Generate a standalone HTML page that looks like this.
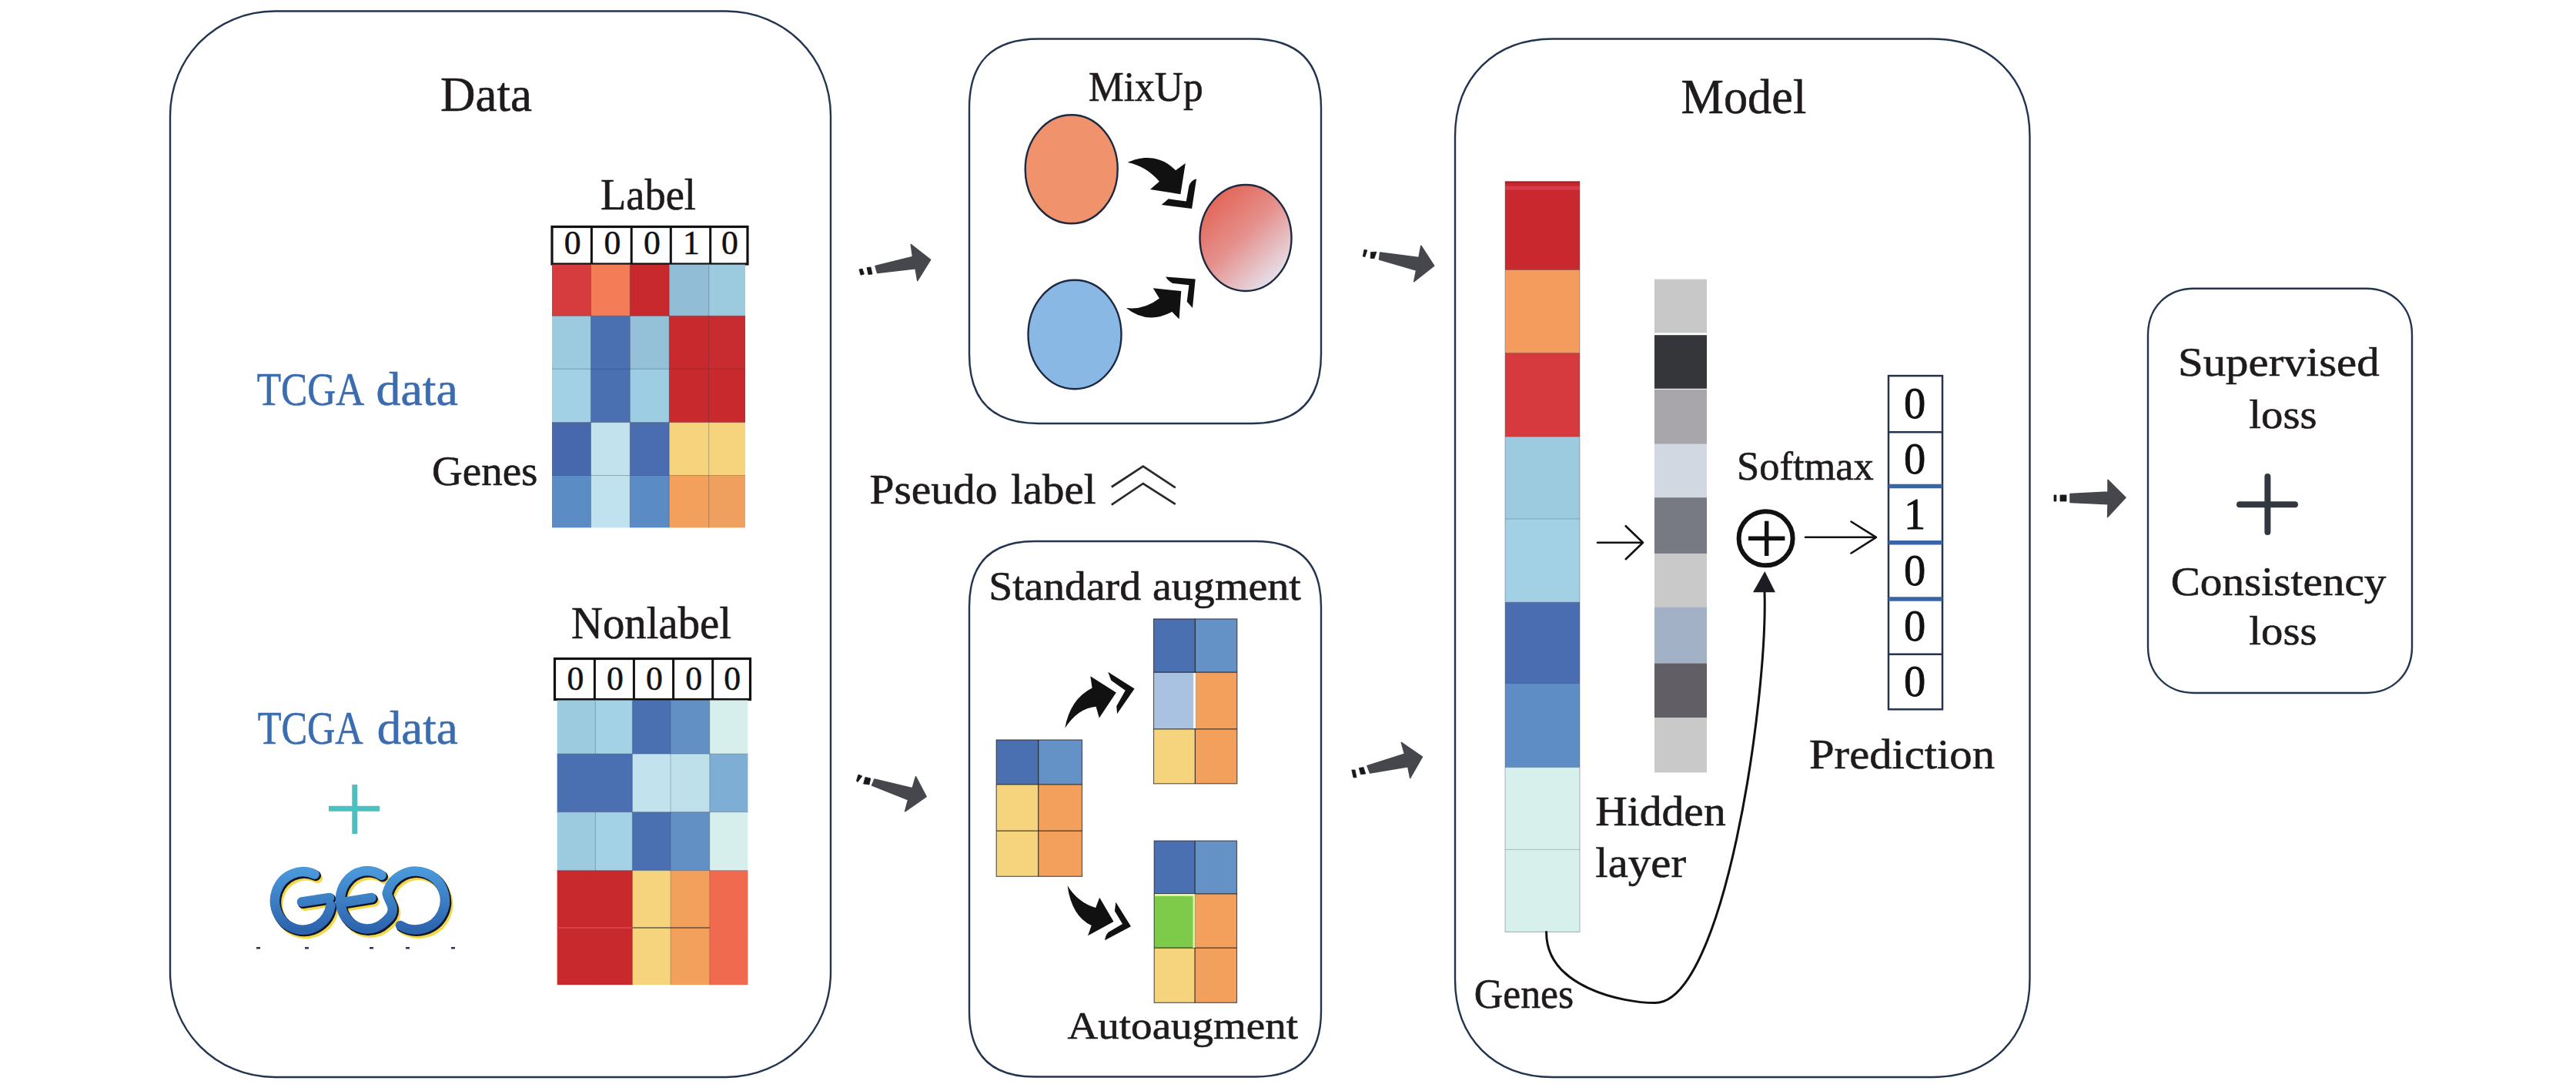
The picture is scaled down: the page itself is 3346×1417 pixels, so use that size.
<!DOCTYPE html><html><head><meta charset="utf-8"><style>html,body{margin:0;padding:0;background:#fff;overflow:hidden}svg{display:block}text{font-family:"Liberation Serif",serif}</style></head><body>
<svg width="3346" height="1417" viewBox="0 0 3346 1417">
<defs><linearGradient id="mix" x1="0.2" y1="0.1" x2="0.85" y2="0.9"><stop offset="0" stop-color="#e2675a"/><stop offset="0.45" stop-color="#e5908c"/><stop offset="1" stop-color="#e6e4ee"/></linearGradient></defs>
<rect width="3346" height="1417" fill="#fff"/>
<g fill="none" stroke="#22344f" stroke-width="2.4">
<path d="M357.0,14.5 L943.0,14.5 C1019.2,14.5 1079.0,74.3 1079.0,150.5 L1079.0,1263.0 C1079.0,1339.2 1019.2,1399.0 943.0,1399.0 L357.0,1399.0 C280.8,1399.0 221.0,1339.2 221.0,1263.0 L221.0,150.5 C221.0,74.3 280.8,14.5 357.0,14.5 Z"/>
<path d="M1349.0,50.5 L1626.0,50.5 C1686.0,50.5 1716.0,80.5 1716.0,140.5 L1716.0,460.0 C1716.0,520.0 1686.0,550.0 1626.0,550.0 L1349.0,550.0 C1289.0,550.0 1259.0,520.0 1259.0,460.0 L1259.0,140.5 C1259.0,80.5 1289.0,50.5 1349.0,50.5 Z"/>
<path d="M1344.0,703.0 L1631.0,703.0 C1687.7,703.0 1716.0,731.3 1716.0,788.0 L1716.0,1313.5 C1716.0,1370.2 1687.7,1398.5 1631.0,1398.5 L1344.0,1398.5 C1287.3,1398.5 1259.0,1370.2 1259.0,1313.5 L1259.0,788.0 C1259.0,731.3 1287.3,703.0 1344.0,703.0 Z"/>
<path d="M2017.0,50.5 L2509.5,50.5 C2585.7,50.5 2636.5,101.3 2636.5,177.5 L2636.5,1272.0 C2636.5,1348.2 2585.7,1399.0 2509.5,1399.0 L2017.0,1399.0 C1940.8,1399.0 1890.0,1348.2 1890.0,1272.0 L1890.0,177.5 C1890.0,101.3 1940.8,50.5 2017.0,50.5 Z"/>
<path d="M2850.0,374.8 L3073.0,374.8 C3108.4,374.8 3133.0,399.4 3133.0,434.8 L3133.0,840.0 C3133.0,875.4 3108.4,900.0 3073.0,900.0 L2850.0,900.0 C2814.6,900.0 2790.0,875.4 2790.0,840.0 L2790.0,434.8 C2790.0,399.4 2814.6,374.8 2850.0,374.8 Z"/>
</g>
<text x="572.0" y="144.0" font-size="64.1" textLength="119.0" lengthAdjust="spacingAndGlyphs" fill="#1f1b1c" stroke="#1f1b1c" stroke-width="0.6">Data</text>
<text x="780.0" y="272.0" font-size="56.2" textLength="124.0" lengthAdjust="spacingAndGlyphs" fill="#1f1b1c" stroke="#1f1b1c" stroke-width="0.6">Label</text>
<text x="333.7" y="526.0" font-size="60.3" textLength="139.5" lengthAdjust="spacingAndGlyphs" fill="#3b6cb0" stroke="#3b6cb0" stroke-width="0.6">TCGA</text>
<text x="488.6" y="526.0" font-size="60.3" textLength="106.3" lengthAdjust="spacingAndGlyphs" fill="#3b6cb0" stroke="#3b6cb0" stroke-width="0.6">data</text>
<text x="561.0" y="630.0" font-size="55.9" textLength="137.5" lengthAdjust="spacingAndGlyphs" fill="#1f1b1c" stroke="#1f1b1c" stroke-width="0.6">Genes</text>
<text x="742.0" y="829.3" font-size="58.8" textLength="208.0" lengthAdjust="spacingAndGlyphs" fill="#1f1b1c" stroke="#1f1b1c" stroke-width="0.6">Nonlabel</text>
<text x="334.7" y="966.0" font-size="60.3" textLength="137.0" lengthAdjust="spacingAndGlyphs" fill="#3b6cb0" stroke="#3b6cb0" stroke-width="0.6">TCGA</text>
<text x="489.8" y="966.0" font-size="60.3" textLength="105.0" lengthAdjust="spacingAndGlyphs" fill="#3b6cb0" stroke="#3b6cb0" stroke-width="0.6">data</text>
<rect x="717" y="294.5" width="254" height="48.5" fill="#fff" stroke="#111" stroke-width="3.2"/>
<line x1="768.4" y1="294.5" x2="768.4" y2="343" stroke="#111" stroke-width="3"/>
<line x1="820.2" y1="294.5" x2="820.2" y2="343" stroke="#111" stroke-width="3"/>
<line x1="871.3" y1="294.5" x2="871.3" y2="343" stroke="#111" stroke-width="3"/>
<line x1="922.7" y1="294.5" x2="922.7" y2="343" stroke="#111" stroke-width="3"/>
<text x="743.7" y="330.2" font-size="43.7" text-anchor="middle" fill="#111" stroke="#111" stroke-width="0.5">0</text>
<text x="795.3" y="330.2" font-size="43.7" text-anchor="middle" fill="#111" stroke="#111" stroke-width="0.5">0</text>
<text x="846.8" y="330.2" font-size="43.7" text-anchor="middle" fill="#111" stroke="#111" stroke-width="0.5">0</text>
<text x="898.0" y="330.2" font-size="43.7" text-anchor="middle" fill="#111" stroke="#111" stroke-width="0.5">1</text>
<text x="947.9" y="330.2" font-size="43.7" text-anchor="middle" fill="#111" stroke="#111" stroke-width="0.5">0</text>
<rect x="720.5" y="855.5" width="254.0" height="53.0" fill="#fff" stroke="#111" stroke-width="3.2"/>
<line x1="772.4" y1="855.5" x2="772.4" y2="908.5" stroke="#111" stroke-width="3"/>
<line x1="823.4" y1="855.5" x2="823.4" y2="908.5" stroke="#111" stroke-width="3"/>
<line x1="874.6" y1="855.5" x2="874.6" y2="908.5" stroke="#111" stroke-width="3"/>
<line x1="925.7" y1="855.5" x2="925.7" y2="908.5" stroke="#111" stroke-width="3"/>
<text x="747.5" y="895.7" font-size="43.7" text-anchor="middle" fill="#111" stroke="#111" stroke-width="0.5">0</text>
<text x="798.9" y="895.7" font-size="43.7" text-anchor="middle" fill="#111" stroke="#111" stroke-width="0.5">0</text>
<text x="850.0" y="895.7" font-size="43.7" text-anchor="middle" fill="#111" stroke="#111" stroke-width="0.5">0</text>
<text x="901.2" y="895.7" font-size="43.7" text-anchor="middle" fill="#111" stroke="#111" stroke-width="0.5">0</text>
<text x="951.1" y="895.7" font-size="43.7" text-anchor="middle" fill="#111" stroke="#111" stroke-width="0.5">0</text>
<rect x="717.0" y="343.6" width="51.5" height="67.7" fill="#d63c3e"/>
<rect x="767.5" y="343.6" width="51.8" height="67.7" fill="#f47d58"/>
<rect x="818.3" y="343.6" width="51.9" height="67.7" fill="#c8292c"/>
<rect x="869.2" y="343.6" width="52.5" height="67.7" fill="#92bdd6"/>
<rect x="920.7" y="343.6" width="47.3" height="67.7" fill="#9ccbe0"/>
<rect x="717.0" y="410.3" width="51.5" height="69.9" fill="#9ccbe0"/>
<rect x="767.5" y="410.3" width="51.8" height="69.9" fill="#4a70b2"/>
<rect x="818.3" y="410.3" width="51.9" height="69.9" fill="#94c1d8"/>
<rect x="869.2" y="410.3" width="52.5" height="69.9" fill="#c8292c"/>
<rect x="920.7" y="410.3" width="47.3" height="69.9" fill="#c92c30"/>
<rect x="717.0" y="479.2" width="51.5" height="70.4" fill="#a2d0e4"/>
<rect x="767.5" y="479.2" width="51.8" height="70.4" fill="#4a70b2"/>
<rect x="818.3" y="479.2" width="51.9" height="70.4" fill="#9dcde3"/>
<rect x="869.2" y="479.2" width="52.5" height="70.4" fill="#c8292c"/>
<rect x="920.7" y="479.2" width="47.3" height="70.4" fill="#c8292c"/>
<rect x="717.0" y="548.6" width="51.5" height="69.9" fill="#4868ad"/>
<rect x="767.5" y="548.6" width="51.8" height="69.9" fill="#c2e3ee"/>
<rect x="818.3" y="548.6" width="51.9" height="69.9" fill="#4a6cb0"/>
<rect x="869.2" y="548.6" width="52.5" height="69.9" fill="#f6d47e"/>
<rect x="920.7" y="548.6" width="47.3" height="69.9" fill="#f6d47e"/>
<rect x="717.0" y="617.5" width="51.5" height="67.8" fill="#5b8cc4"/>
<rect x="767.5" y="617.5" width="51.8" height="67.8" fill="#c0e2ee"/>
<rect x="818.3" y="617.5" width="51.9" height="67.8" fill="#5a8bc4"/>
<rect x="869.2" y="617.5" width="52.5" height="67.8" fill="#f2a05c"/>
<rect x="920.7" y="617.5" width="47.3" height="67.8" fill="#f0a05e"/>
<line x1="717" y1="410.3" x2="767.5" y2="410.3" stroke="rgba(60,60,70,0.35)" stroke-width="1"/>
<line x1="767.5" y1="410.3" x2="818.3" y2="410.3" stroke="rgba(60,60,70,0.35)" stroke-width="1"/>
<line x1="818.3" y1="410.3" x2="869.2" y2="410.3" stroke="rgba(60,60,70,0.35)" stroke-width="1"/>
<line x1="869.2" y1="410.3" x2="920.7" y2="410.3" stroke="rgba(60,60,70,0.35)" stroke-width="1"/>
<line x1="920.7" y1="410.3" x2="968" y2="410.3" stroke="rgba(60,60,70,0.35)" stroke-width="1"/>
<line x1="717" y1="479.2" x2="767.5" y2="479.2" stroke="rgba(60,60,70,0.35)" stroke-width="1"/>
<line x1="767.5" y1="479.2" x2="818.3" y2="479.2" stroke="rgba(60,60,70,0.35)" stroke-width="1"/>
<line x1="818.3" y1="479.2" x2="869.2" y2="479.2" stroke="rgba(60,60,70,0.35)" stroke-width="1"/>
<line x1="869.2" y1="479.2" x2="920.7" y2="479.2" stroke="rgba(60,60,70,0.35)" stroke-width="1"/>
<line x1="920.7" y1="479.2" x2="968" y2="479.2" stroke="rgba(60,60,70,0.35)" stroke-width="1"/>
<line x1="717" y1="548.6" x2="767.5" y2="548.6" stroke="rgba(60,60,70,0.35)" stroke-width="1"/>
<line x1="767.5" y1="548.6" x2="818.3" y2="548.6" stroke="rgba(60,60,70,0.35)" stroke-width="1"/>
<line x1="818.3" y1="548.6" x2="869.2" y2="548.6" stroke="rgba(60,60,70,0.35)" stroke-width="1"/>
<line x1="869.2" y1="548.6" x2="920.7" y2="548.6" stroke="rgba(60,60,70,0.35)" stroke-width="1"/>
<line x1="920.7" y1="548.6" x2="968" y2="548.6" stroke="rgba(60,60,70,0.35)" stroke-width="1"/>
<line x1="717" y1="617.5" x2="767.5" y2="617.5" stroke="rgba(60,60,70,0.35)" stroke-width="1"/>
<line x1="767.5" y1="617.5" x2="818.3" y2="617.5" stroke="rgba(60,60,70,0.35)" stroke-width="1"/>
<line x1="818.3" y1="617.5" x2="869.2" y2="617.5" stroke="rgba(60,60,70,0.35)" stroke-width="1"/>
<line x1="869.2" y1="617.5" x2="920.7" y2="617.5" stroke="rgba(60,60,70,0.35)" stroke-width="1"/>
<line x1="920.7" y1="617.5" x2="968" y2="617.5" stroke="rgba(60,60,70,0.35)" stroke-width="1"/>
<line x1="767.5" y1="343.6" x2="767.5" y2="410.3" stroke="rgba(60,60,70,0.35)" stroke-width="1"/>
<line x1="767.5" y1="410.3" x2="767.5" y2="479.2" stroke="rgba(60,60,70,0.35)" stroke-width="1"/>
<line x1="767.5" y1="479.2" x2="767.5" y2="548.6" stroke="rgba(60,60,70,0.35)" stroke-width="1"/>
<line x1="767.5" y1="548.6" x2="767.5" y2="617.5" stroke="rgba(60,60,70,0.35)" stroke-width="1"/>
<line x1="767.5" y1="617.5" x2="767.5" y2="685.3" stroke="rgba(60,60,70,0.35)" stroke-width="1"/>
<line x1="818.3" y1="343.6" x2="818.3" y2="410.3" stroke="rgba(60,60,70,0.35)" stroke-width="1"/>
<line x1="818.3" y1="410.3" x2="818.3" y2="479.2" stroke="rgba(60,60,70,0.35)" stroke-width="1"/>
<line x1="818.3" y1="479.2" x2="818.3" y2="548.6" stroke="rgba(60,60,70,0.35)" stroke-width="1"/>
<line x1="818.3" y1="548.6" x2="818.3" y2="617.5" stroke="rgba(60,60,70,0.35)" stroke-width="1"/>
<line x1="818.3" y1="617.5" x2="818.3" y2="685.3" stroke="rgba(60,60,70,0.35)" stroke-width="1"/>
<line x1="869.2" y1="343.6" x2="869.2" y2="410.3" stroke="rgba(60,60,70,0.35)" stroke-width="1"/>
<line x1="869.2" y1="410.3" x2="869.2" y2="479.2" stroke="rgba(60,60,70,0.35)" stroke-width="1"/>
<line x1="869.2" y1="479.2" x2="869.2" y2="548.6" stroke="rgba(60,60,70,0.35)" stroke-width="1"/>
<line x1="869.2" y1="548.6" x2="869.2" y2="617.5" stroke="rgba(60,60,70,0.35)" stroke-width="1"/>
<line x1="869.2" y1="617.5" x2="869.2" y2="685.3" stroke="rgba(60,60,70,0.35)" stroke-width="1"/>
<line x1="920.7" y1="343.6" x2="920.7" y2="410.3" stroke="rgba(60,60,70,0.35)" stroke-width="1"/>
<line x1="920.7" y1="410.3" x2="920.7" y2="479.2" stroke="rgba(60,60,70,0.35)" stroke-width="1"/>
<line x1="920.7" y1="479.2" x2="920.7" y2="548.6" stroke="rgba(60,60,70,0.35)" stroke-width="1"/>
<line x1="920.7" y1="548.6" x2="920.7" y2="617.5" stroke="rgba(60,60,70,0.35)" stroke-width="1"/>
<line x1="920.7" y1="617.5" x2="920.7" y2="685.3" stroke="rgba(60,60,70,0.35)" stroke-width="1"/>
<rect x="723.7" y="909.5" width="50.6" height="70.6" fill="#9ccbe0"/>
<rect x="773.3" y="909.5" width="49.1" height="70.6" fill="#a3d1e5"/>
<rect x="821.4" y="909.5" width="50.6" height="70.6" fill="#4a70b2"/>
<rect x="871.0" y="909.5" width="51.8" height="70.6" fill="#628fc4"/>
<rect x="921.8" y="909.5" width="49.6" height="70.6" fill="#d6efec"/>
<rect x="723.7" y="979.1" width="50.6" height="76.6" fill="#4a70b2"/>
<rect x="773.3" y="979.1" width="49.1" height="76.6" fill="#4a70b2"/>
<rect x="821.4" y="979.1" width="50.6" height="76.6" fill="#c2e3ee"/>
<rect x="871.0" y="979.1" width="51.8" height="76.6" fill="#bde0eb"/>
<rect x="921.8" y="979.1" width="49.6" height="76.6" fill="#7eaed4"/>
<rect x="723.7" y="1054.7" width="50.6" height="76.9" fill="#9ccbe0"/>
<rect x="773.3" y="1054.7" width="49.1" height="76.9" fill="#a3d1e5"/>
<rect x="821.4" y="1054.7" width="50.6" height="76.9" fill="#4a70b2"/>
<rect x="871.0" y="1054.7" width="51.8" height="76.9" fill="#628fc4"/>
<rect x="921.8" y="1054.7" width="49.6" height="76.9" fill="#d6efec"/>
<rect x="723.7" y="1130.6" width="50.6" height="75.4" fill="#c8292c"/>
<rect x="773.3" y="1130.6" width="49.1" height="75.4" fill="#c8292c"/>
<rect x="821.4" y="1130.6" width="50.6" height="75.4" fill="#f6d47e"/>
<rect x="871.0" y="1130.6" width="51.8" height="75.4" fill="#f2a05c"/>
<rect x="921.8" y="1130.6" width="49.6" height="75.4" fill="#ef6a4e"/>
<rect x="723.7" y="1205.0" width="50.6" height="74.1" fill="#c8292c"/>
<rect x="773.3" y="1205.0" width="49.1" height="74.1" fill="#c8292c"/>
<rect x="821.4" y="1205.0" width="50.6" height="74.1" fill="#f6d47e"/>
<rect x="871.0" y="1205.0" width="51.8" height="74.1" fill="#f2a05c"/>
<rect x="921.8" y="1205.0" width="49.6" height="74.1" fill="#ef6a4e"/>
<line x1="723.7" y1="979.1" x2="773.3" y2="979.1" stroke="rgba(60,60,70,0.3)" stroke-width="1"/>
<line x1="773.3" y1="979.1" x2="821.4" y2="979.1" stroke="rgba(60,60,70,0.3)" stroke-width="1"/>
<line x1="821.4" y1="979.1" x2="871" y2="979.1" stroke="rgba(60,60,70,0.3)" stroke-width="1"/>
<line x1="871" y1="979.1" x2="921.8" y2="979.1" stroke="rgba(60,60,70,0.3)" stroke-width="1"/>
<line x1="921.8" y1="979.1" x2="971.4" y2="979.1" stroke="rgba(60,60,70,0.3)" stroke-width="1"/>
<line x1="723.7" y1="1054.7" x2="773.3" y2="1054.7" stroke="rgba(60,60,70,0.3)" stroke-width="1"/>
<line x1="773.3" y1="1054.7" x2="821.4" y2="1054.7" stroke="rgba(60,60,70,0.3)" stroke-width="1"/>
<line x1="821.4" y1="1054.7" x2="871" y2="1054.7" stroke="rgba(60,60,70,0.3)" stroke-width="1"/>
<line x1="871" y1="1054.7" x2="921.8" y2="1054.7" stroke="rgba(60,60,70,0.3)" stroke-width="1"/>
<line x1="921.8" y1="1054.7" x2="971.4" y2="1054.7" stroke="rgba(60,60,70,0.3)" stroke-width="1"/>
<line x1="723.7" y1="1130.6" x2="773.3" y2="1130.6" stroke="rgba(60,60,70,0.3)" stroke-width="1"/>
<line x1="773.3" y1="1130.6" x2="821.4" y2="1130.6" stroke="rgba(60,60,70,0.3)" stroke-width="1"/>
<line x1="821.4" y1="1130.6" x2="871" y2="1130.6" stroke="rgba(60,60,70,0.3)" stroke-width="1"/>
<line x1="871" y1="1130.6" x2="921.8" y2="1130.6" stroke="rgba(60,60,70,0.3)" stroke-width="1"/>
<line x1="921.8" y1="1130.6" x2="971.4" y2="1130.6" stroke="rgba(60,60,70,0.3)" stroke-width="1"/>
<line x1="773.3" y1="909.5" x2="773.3" y2="979.1" stroke="rgba(60,60,70,0.3)" stroke-width="1"/>
<line x1="773.3" y1="1054.7" x2="773.3" y2="1130.6" stroke="rgba(60,60,70,0.3)" stroke-width="1"/>
<line x1="821.4" y1="909.5" x2="821.4" y2="979.1" stroke="rgba(60,60,70,0.3)" stroke-width="1"/>
<line x1="821.4" y1="979.1" x2="821.4" y2="1054.7" stroke="rgba(60,60,70,0.3)" stroke-width="1"/>
<line x1="821.4" y1="1054.7" x2="821.4" y2="1130.6" stroke="rgba(60,60,70,0.3)" stroke-width="1"/>
<line x1="821.4" y1="1130.6" x2="821.4" y2="1205" stroke="rgba(60,60,70,0.3)" stroke-width="1"/>
<line x1="821.4" y1="1205" x2="821.4" y2="1279.1" stroke="rgba(60,60,70,0.3)" stroke-width="1"/>
<line x1="871" y1="909.5" x2="871" y2="979.1" stroke="rgba(60,60,70,0.3)" stroke-width="1"/>
<line x1="871" y1="979.1" x2="871" y2="1054.7" stroke="rgba(60,60,70,0.3)" stroke-width="1"/>
<line x1="871" y1="1054.7" x2="871" y2="1130.6" stroke="rgba(60,60,70,0.3)" stroke-width="1"/>
<line x1="871" y1="1130.6" x2="871" y2="1205" stroke="rgba(60,60,70,0.3)" stroke-width="1"/>
<line x1="871" y1="1205" x2="871" y2="1279.1" stroke="rgba(60,60,70,0.3)" stroke-width="1"/>
<line x1="921.8" y1="909.5" x2="921.8" y2="979.1" stroke="rgba(60,60,70,0.3)" stroke-width="1"/>
<line x1="921.8" y1="979.1" x2="921.8" y2="1054.7" stroke="rgba(60,60,70,0.3)" stroke-width="1"/>
<line x1="921.8" y1="1054.7" x2="921.8" y2="1130.6" stroke="rgba(60,60,70,0.3)" stroke-width="1"/>
<line x1="921.8" y1="1130.6" x2="921.8" y2="1205" stroke="rgba(60,60,70,0.3)" stroke-width="1"/>
<line x1="921.8" y1="1205" x2="921.8" y2="1279.1" stroke="rgba(60,60,70,0.3)" stroke-width="1"/>
<line x1="723.7" y1="1205" x2="821.4" y2="1205" stroke="#e05060" stroke-width="1.5" opacity="0.8"/>
<line x1="821.4" y1="1205" x2="921.8" y2="1205" stroke="rgba(40,40,40,0.7)" stroke-width="1.3"/>
<g stroke="#4cc0c0" stroke-width="7" stroke-linecap="butt"><line x1="460.8" y1="1019" x2="460.8" y2="1083"/><line x1="427" y1="1050.2" x2="493" y2="1050.2"/></g>
<text x="1414.0" y="130.8" font-size="53.9" textLength="148.6" lengthAdjust="spacingAndGlyphs" fill="#1f1b1c" stroke="#1f1b1c" stroke-width="0.6">MixUp</text>
<ellipse cx="1391.7" cy="219.8" rx="60" ry="70.5" fill="#f0936d" stroke="#1d2940" stroke-width="2.4"/>
<ellipse cx="1396" cy="434.5" rx="60.5" ry="70.8" fill="#8ab8e4" stroke="#1d2940" stroke-width="2.4"/>
<ellipse cx="1618" cy="309" rx="59.5" ry="69" fill="url(#mix)" stroke="#1d2940" stroke-width="2.4"/>
<g fill="#111">
<path d="M1464.7,211.1 C1482,202 1508,201 1527,221.2 L1539.8,212 L1533.4,252.3 L1494,245.9 L1505.9,235.8 C1494,222 1480,214 1464.7,211.1Z"/>
<path d="M1508.7,266.1 L1517.8,258.3 L1540.8,261.5 L1544.4,241.3 Q1547,234 1554.1,232.2 L1548.1,271.1Z"/>
<path d="M1462.8,400 Q1486,403 1505.9,387.6 L1497.7,374.3 L1534.3,378 L1531.6,414.6 L1522.4,405 Q1490,422 1462.8,400Z"/>
<path d="M1514.2,359.6 L1552.7,362.4 L1549,400 L1541.7,391.7 L1544.4,370.2 L1523.3,367.9 Q1517,365 1514.2,359.6Z"/>
<path d="M1383.3,945.7 Q1390,908 1418.6,893.5 L1416.3,878.3 L1449.8,899.4 L1427.8,932.4 L1423.6,917.8 Q1400,920 1383.3,945.7Z"/>
<path d="M1439.2,872.8 L1473.6,894.4 L1451.1,926.9 L1450.2,917.3 L1461.7,896.7 L1443.3,883.8Z"/>
<path d="M1386.5,1150.2 Q1400,1172 1423.2,1179 L1428.2,1165.8 L1446.5,1196.9 L1413.1,1215.3 L1417.7,1202 Q1392,1190 1386.5,1150.2Z"/>
<path d="M1449.3,1171.7 L1469,1203.3 L1435.1,1221.2 Q1436,1214 1439.7,1210.7 L1458,1200.1 L1447.9,1183.2Z"/>
</g>
<text x="1129.5" y="653.6" font-size="55.0" textLength="166.0" lengthAdjust="spacingAndGlyphs" fill="#1f1b1c" stroke="#1f1b1c" stroke-width="0.6">Pseudo</text>
<text x="1312.9" y="653.6" font-size="55.0" textLength="110.7" lengthAdjust="spacingAndGlyphs" fill="#1f1b1c" stroke="#1f1b1c" stroke-width="0.6">label</text>
<g fill="none" stroke="#2a2a2e" stroke-width="2.7"><polyline points="1443.8,632.5 1484.8,605.7 1526.8,633.4"/><polyline points="1443.8,655.7 1484.8,628 1526.8,654.8"/></g>
<text x="1284.2" y="778.7" font-size="51.9" textLength="197.8" lengthAdjust="spacingAndGlyphs" fill="#1f1b1c" stroke="#1f1b1c" stroke-width="0.6">Standard</text>
<text x="1497.0" y="778.7" font-size="51.9" textLength="192.9" lengthAdjust="spacingAndGlyphs" fill="#1f1b1c" stroke="#1f1b1c" stroke-width="0.6">augment</text>
<text x="1386.6" y="1349.2" font-size="50.4" textLength="299.5" lengthAdjust="spacingAndGlyphs" fill="#1f1b1c" stroke="#1f1b1c" stroke-width="0.6">Autoaugment</text>
<rect x="1294.2" y="961.0" width="55.5" height="58.8" fill="#4a70b2"/>
<rect x="1348.7" y="961.0" width="56.8" height="58.8" fill="#6592c6"/>
<rect x="1294.2" y="1018.8" width="55.5" height="61.4" fill="#f6d47e"/>
<rect x="1348.7" y="1018.8" width="56.8" height="61.4" fill="#f2a05c"/>
<rect x="1294.2" y="1079.2" width="55.5" height="59.1" fill="#f6d47e"/>
<rect x="1348.7" y="1079.2" width="56.8" height="59.1" fill="#f2a05c"/>
<line x1="1294.2" y1="1018.8" x2="1348.7" y2="1018.8" stroke="rgba(30,30,30,0.8)" stroke-width="1.3"/>
<line x1="1348.7" y1="1018.8" x2="1405.5" y2="1018.8" stroke="rgba(30,30,30,0.8)" stroke-width="1.3"/>
<line x1="1294.2" y1="1079.2" x2="1348.7" y2="1079.2" stroke="rgba(30,30,30,0.8)" stroke-width="1.3"/>
<line x1="1348.7" y1="1079.2" x2="1405.5" y2="1079.2" stroke="rgba(30,30,30,0.8)" stroke-width="1.3"/>
<line x1="1348.7" y1="961" x2="1348.7" y2="1018.8" stroke="rgba(30,30,30,0.8)" stroke-width="1.3"/>
<line x1="1348.7" y1="1018.8" x2="1348.7" y2="1079.2" stroke="rgba(30,30,30,0.8)" stroke-width="1.3"/>
<line x1="1348.7" y1="1079.2" x2="1348.7" y2="1138.3" stroke="rgba(30,30,30,0.8)" stroke-width="1.3"/>
<rect x="1294.2" y="961" width="111.3" height="177.3" fill="none" stroke="rgba(30,30,30,0.7)" stroke-width="1.2"/>
<rect x="1498.5" y="803.9" width="54.9" height="70.3" fill="#4a70b2"/>
<rect x="1552.4" y="803.9" width="54.4" height="70.3" fill="#6592c6"/>
<rect x="1498.5" y="873.2" width="54.9" height="74.6" fill="#a9c2e2"/>
<rect x="1552.4" y="873.2" width="54.4" height="74.6" fill="#f2a05c"/>
<rect x="1498.5" y="946.8" width="54.9" height="71.0" fill="#f6d47e"/>
<rect x="1552.4" y="946.8" width="54.4" height="71.0" fill="#f2a05c"/>
<line x1="1498.5" y1="873.2" x2="1552.4" y2="873.2" stroke="rgba(30,30,30,0.8)" stroke-width="1.3"/>
<line x1="1552.4" y1="873.2" x2="1606.8" y2="873.2" stroke="rgba(30,30,30,0.8)" stroke-width="1.3"/>
<line x1="1498.5" y1="946.8" x2="1552.4" y2="946.8" stroke="rgba(30,30,30,0.8)" stroke-width="1.3"/>
<line x1="1552.4" y1="946.8" x2="1606.8" y2="946.8" stroke="rgba(30,30,30,0.8)" stroke-width="1.3"/>
<line x1="1552.4" y1="803.9" x2="1552.4" y2="873.2" stroke="rgba(30,30,30,0.8)" stroke-width="1.3"/>
<line x1="1552.4" y1="873.2" x2="1552.4" y2="946.8" stroke="rgba(30,30,30,0.8)" stroke-width="1.3"/>
<line x1="1552.4" y1="946.8" x2="1552.4" y2="1017.8" stroke="rgba(30,30,30,0.8)" stroke-width="1.3"/>
<rect x="1498.5" y="803.9" width="108.3" height="213.9" fill="none" stroke="rgba(30,30,30,0.7)" stroke-width="1.2"/>
<rect x="1550" y="874" width="3" height="72" fill="#f4f4f0"/>
<rect x="1499.2" y="1092.1" width="53.9" height="69.7" fill="#4a70b2"/>
<rect x="1552.1" y="1092.1" width="54.4" height="69.7" fill="#6592c6"/>
<rect x="1499.2" y="1160.8" width="53.9" height="71.4" fill="#7ecb4c"/>
<rect x="1552.1" y="1160.8" width="54.4" height="71.4" fill="#f2a05c"/>
<rect x="1499.2" y="1231.2" width="53.9" height="71.1" fill="#f6d47e"/>
<rect x="1552.1" y="1231.2" width="54.4" height="71.1" fill="#f2a05c"/>
<line x1="1499.2" y1="1160.8" x2="1552.1" y2="1160.8" stroke="rgba(30,30,30,0.8)" stroke-width="1.3"/>
<line x1="1552.1" y1="1160.8" x2="1606.5" y2="1160.8" stroke="rgba(30,30,30,0.8)" stroke-width="1.3"/>
<line x1="1499.2" y1="1231.2" x2="1552.1" y2="1231.2" stroke="rgba(30,30,30,0.8)" stroke-width="1.3"/>
<line x1="1552.1" y1="1231.2" x2="1606.5" y2="1231.2" stroke="rgba(30,30,30,0.8)" stroke-width="1.3"/>
<line x1="1552.1" y1="1092.1" x2="1552.1" y2="1160.8" stroke="rgba(30,30,30,0.8)" stroke-width="1.3"/>
<line x1="1552.1" y1="1160.8" x2="1552.1" y2="1231.2" stroke="rgba(30,30,30,0.8)" stroke-width="1.3"/>
<line x1="1552.1" y1="1231.2" x2="1552.1" y2="1302.3" stroke="rgba(30,30,30,0.8)" stroke-width="1.3"/>
<rect x="1499.2" y="1092.1" width="107.3" height="210.2" fill="none" stroke="rgba(30,30,30,0.7)" stroke-width="1.2"/>
<path d="M1500,1162.5 L1551,1162.5 L1551,1231" fill="none" stroke="#e8f0a0" stroke-width="3"/>
<g fill="#45474d" stroke="#45474d" stroke-width="1.5" stroke-linejoin="round">
<path fill="#16181c" stroke="#16181c" stroke-width="0.8" d="M1116,350 L1120,349 L1122.4,356 L1118,357.2Z"/>
<path fill="#16181c" stroke="#16181c" stroke-width="0.8" d="M1126,347.5 L1131,347 L1133,356 L1128,356.5Z"/>
<path d="M1137.0,345.5 L1185.5,333.4 L1183.3,317.6 L1208.6,337.4 L1191.7,364.5 L1189.1,348.8 L1139.6,354.6Z"/>
<path fill="#16181c" stroke="#16181c" stroke-width="0.8" d="M1115,1006 L1119.8,1008 L1114,1015.7 L1112.5,1014Z"/>
<path fill="#16181c" stroke="#16181c" stroke-width="0.8" d="M1124,1009.4 L1130.8,1011 L1129,1019 L1121.6,1018Z"/>
<path d="M1135.9,1012.0 L1185.1,1023.7 L1189.5,1008.7 L1203.1,1034.7 L1175.6,1053.8 L1179.6,1038.8 L1132.6,1020.1Z"/>
<path fill="#16181c" stroke="#16181c" stroke-width="0.8" d="M1772,324.3 L1775.8,325 L1773,333.5 L1770.3,333Z"/>
<path fill="#16181c" stroke="#16181c" stroke-width="0.8" d="M1780.5,327.5 L1787.9,327.2 L1785,335.7 L1780.2,335.5Z"/>
<path d="M1792.6,328.0 L1842.9,334.6 L1845.8,319.2 L1862.7,345.2 L1836.7,365.7 L1839.6,351.1 L1791.5,337.1Z"/>
<path fill="#16181c" stroke="#16181c" stroke-width="0.8" d="M1755.8,1000 L1760,1000 L1762,1009.8 L1758,1009.8Z"/>
<path fill="#16181c" stroke="#16181c" stroke-width="0.8" d="M1765.3,997.5 L1771,996.6 L1773.7,1005 L1767.5,1005.7Z"/>
<path d="M1775.9,994.7 L1824.4,979.3 L1820.3,964.3 L1847.5,983.0 L1831.7,1010.5 L1828.8,995.8 L1779.6,1003.9Z"/>
<path fill="#16181c" stroke="#16181c" stroke-width="0.8" d="M2668,643 L2670.9,643 L2670.9,651 L2668,651Z"/>
<path fill="#16181c" stroke="#16181c" stroke-width="0.8" d="M2676,643 L2684,643 L2684,651 L2676,651Z"/>
<path d="M2689.0,641.5 L2738.0,639.0 L2738.0,623.2 L2761.0,646.3 L2737.6,671.6 L2738.0,654.7 L2689.0,652.5Z"/>
</g>
<text x="2183.5" y="146.6" font-size="63.7" textLength="162.7" lengthAdjust="spacingAndGlyphs" fill="#1f1b1c" stroke="#1f1b1c" stroke-width="0.6">Model</text>
<rect x="1955.0" y="235.7" width="97.0" height="115.3" fill="#c8282e"/>
<rect x="1955.0" y="350.5" width="97.0" height="108.5" fill="#f49c5e"/>
<rect x="1955.0" y="458.5" width="97.0" height="109.2" fill="#d63a3e"/>
<rect x="1955.0" y="567.2" width="97.0" height="107.3" fill="#9ccbe0"/>
<rect x="1955.0" y="674.0" width="97.0" height="108.7" fill="#a2d0e4"/>
<rect x="1955.0" y="782.2" width="97.0" height="105.9" fill="#4a6cb0"/>
<rect x="1955.0" y="887.6" width="97.0" height="109.5" fill="#5e8cc4"/>
<rect x="1955.0" y="996.6" width="97.0" height="107.3" fill="#d8f0ec"/>
<rect x="1955.0" y="1103.4" width="97.0" height="107.4" fill="#d8f0ec"/>
<line x1="1955" y1="350.5" x2="2052" y2="350.5" stroke="rgba(60,70,80,0.3)" stroke-width="1"/>
<line x1="1955" y1="458.5" x2="2052" y2="458.5" stroke="rgba(60,70,80,0.3)" stroke-width="1"/>
<line x1="1955" y1="567.2" x2="2052" y2="567.2" stroke="rgba(60,70,80,0.3)" stroke-width="1"/>
<line x1="1955" y1="674" x2="2052" y2="674" stroke="rgba(60,70,80,0.3)" stroke-width="1"/>
<line x1="1955" y1="782.2" x2="2052" y2="782.2" stroke="rgba(60,70,80,0.3)" stroke-width="1"/>
<line x1="1955" y1="887.6" x2="2052" y2="887.6" stroke="rgba(60,70,80,0.3)" stroke-width="1"/>
<line x1="1955" y1="996.6" x2="2052" y2="996.6" stroke="rgba(60,70,80,0.3)" stroke-width="1"/>
<line x1="1955" y1="1103.4" x2="2052" y2="1103.4" stroke="rgba(60,70,80,0.3)" stroke-width="1"/>
<rect x="1955" y="235.7" width="97" height="974.6" fill="none" stroke="rgba(80,90,100,0.45)" stroke-width="1"/>
<rect x="2149.0" y="362.7" width="68.0" height="69.7" fill="#c8c8c8"/>
<rect x="2149.0" y="435.2" width="68.0" height="69.6" fill="#35363a"/>
<rect x="2149.0" y="505.8" width="68.0" height="71.1" fill="#a8a6aa"/>
<rect x="2149.0" y="576.6" width="68.0" height="69.9" fill="#d2d8e2"/>
<rect x="2149.0" y="646.2" width="68.0" height="73.0" fill="#777a82"/>
<rect x="2149.0" y="718.9" width="68.0" height="70.0" fill="#c9c9c9"/>
<rect x="2149.0" y="788.6" width="68.0" height="73.3" fill="#a3b1c6"/>
<rect x="2149.0" y="861.6" width="68.0" height="70.7" fill="#615e66"/>
<rect x="2149.0" y="932.0" width="68.0" height="71.3" fill="#c9c9c9"/>
<text x="2256.0" y="622.9" font-size="53.5" textLength="177.8" lengthAdjust="spacingAndGlyphs" fill="#1f1b1c" stroke="#1f1b1c" stroke-width="0.6">Softmax</text>
<text x="2350.0" y="998.0" font-size="55.9" textLength="241.0" lengthAdjust="spacingAndGlyphs" fill="#1f1b1c" stroke="#1f1b1c" stroke-width="0.6">Prediction</text>
<text x="2072.3" y="1071.8" font-size="55.9" textLength="169.4" lengthAdjust="spacingAndGlyphs" fill="#1f1b1c" stroke="#1f1b1c" stroke-width="0.6">Hidden</text>
<text x="2072.3" y="1138.6" font-size="55.9" textLength="117.7" lengthAdjust="spacingAndGlyphs" fill="#1f1b1c" stroke="#1f1b1c" stroke-width="0.6">layer</text>
<text x="1914.8" y="1309.4" font-size="55.9" textLength="129.4" lengthAdjust="spacingAndGlyphs" fill="#1f1b1c" stroke="#1f1b1c" stroke-width="0.6">Genes</text>
<rect x="1955" y="241.8" width="97" height="5" fill="#dc4050" opacity="0.8"/>
<rect x="1955" y="235.6" width="97" height="2.5" fill="#9a1c22" opacity="0.6"/>
<rect x="2453" y="488.1" width="70" height="433.2" fill="#fff" stroke="#26334d" stroke-width="2.5"/>
<line x1="2453" y1="561.3" x2="2523" y2="561.3" stroke="#26334d" stroke-width="2.5"/>
<line x1="2453" y1="631.5" x2="2523" y2="631.5" stroke="#3a64a8" stroke-width="5.5"/>
<line x1="2453" y1="704.7" x2="2523" y2="704.7" stroke="#3a64a8" stroke-width="5.5"/>
<line x1="2453" y1="777.9" x2="2523" y2="777.9" stroke="#3a64a8" stroke-width="5.5"/>
<line x1="2453" y1="849.8" x2="2523" y2="849.8" stroke="#26334d" stroke-width="2.5"/>
<text x="2487" y="543.2" font-size="56.5" text-anchor="middle" fill="#111" stroke="#111" stroke-width="0.8">0</text>
<text x="2487" y="614.9" font-size="56.5" text-anchor="middle" fill="#111" stroke="#111" stroke-width="0.8">0</text>
<text x="2487" y="686.6" font-size="56.5" text-anchor="middle" fill="#111" stroke="#111" stroke-width="0.8">1</text>
<text x="2487" y="759.8" font-size="56.5" text-anchor="middle" fill="#111" stroke="#111" stroke-width="0.8">0</text>
<text x="2487" y="832.3" font-size="56.5" text-anchor="middle" fill="#111" stroke="#111" stroke-width="0.8">0</text>
<text x="2487" y="904.0" font-size="56.5" text-anchor="middle" fill="#111" stroke="#111" stroke-width="0.8">0</text>
<g fill="none" stroke="#111" stroke-width="2.6" stroke-linecap="round" stroke-linejoin="round">
<line x1="2075" y1="704.7" x2="2133" y2="704.7"/><polyline points="2111.7,683.2 2134,704.7 2111.7,726.2"/>
<line x1="2345" y1="697.8" x2="2436" y2="697.8"/><polyline points="2404.5,677.5 2437,697.8 2404.5,718.5"/>
<path d="M2008.6,1210.5 C2008.2,1282.7 2109.1,1302.6 2149.7,1302.6 C2239.1,1302.6 2296.1,909.5 2292,769" stroke-width="3"/>
</g>
<path d="M2292.3,742 L2277,769.3 L2306,769.3Z" fill="#1c1c22"/>
<circle cx="2293.6" cy="699.3" r="35" fill="none" stroke="#111" stroke-width="6"/>
<g stroke="#111" stroke-width="5.5"><line x1="2271" y1="699.3" x2="2318.4" y2="699.3"/><line x1="2294.7" y1="676.7" x2="2294.7" y2="722"/></g>
<text x="2828.9" y="488.3" font-size="53.5" textLength="261.8" lengthAdjust="spacingAndGlyphs" fill="#1f1b1c" stroke="#1f1b1c" stroke-width="0.6">Supervised</text>
<text x="2921.3" y="556.1" font-size="53.5" textLength="88.3" lengthAdjust="spacingAndGlyphs" fill="#1f1b1c" stroke="#1f1b1c" stroke-width="0.6">loss</text>
<text x="2819.7" y="773.2" font-size="53.5" textLength="279.7" lengthAdjust="spacingAndGlyphs" fill="#1f1b1c" stroke="#1f1b1c" stroke-width="0.6">Consistency</text>
<text x="2921.3" y="837.4" font-size="53.5" textLength="88.3" lengthAdjust="spacingAndGlyphs" fill="#1f1b1c" stroke="#1f1b1c" stroke-width="0.6">loss</text>
<g stroke="#333740" stroke-width="8" stroke-linecap="round"><line x1="2945.4" y1="619" x2="2945.4" y2="691"/><line x1="2909" y1="655.2" x2="2981" y2="655.2"/></g>
<defs><linearGradient id="geob" x1="0" y1="0" x2="0" y2="1"><stop offset="0" stop-color="#4a98da"/><stop offset="1" stop-color="#2d64ae"/></linearGradient></defs><path d="M408.6,1135.6 A36.5,37.7 0 1,0 429.5,1176 M392,1171.5 L428,1166 M495.6,1136.8 A35,37.7 0 1,0 500.1,1197 C506,1192 512,1186 509,1176 C506,1168 503,1164 502.7,1160 A38.2,37.9 0 1,1 520,1202 M445.6,1172 L482.5,1166" transform="translate(4,5)" fill="none" stroke="#f4d84a" stroke-width="13" stroke-linecap="round"/><path d="M408.6,1135.6 A36.5,37.7 0 1,0 429.5,1176 M392,1171.5 L428,1166 M495.6,1136.8 A35,37.7 0 1,0 500.1,1197 C506,1192 512,1186 509,1176 C506,1168 503,1164 502.7,1160 A38.2,37.9 0 1,1 520,1202 M445.6,1172 L482.5,1166" transform="translate(1.6,1.8)" fill="none" stroke="#101626" stroke-width="13.5" stroke-linecap="round"/><path d="M408.6,1135.6 A36.5,37.7 0 1,0 429.5,1176 M392,1171.5 L428,1166 M495.6,1136.8 A35,37.7 0 1,0 500.1,1197 C506,1192 512,1186 509,1176 C506,1168 503,1164 502.7,1160 A38.2,37.9 0 1,1 520,1202 M445.6,1172 L482.5,1166" fill="none" stroke="url(#geob)" stroke-width="12.5" stroke-linecap="round"/><rect x="333" y="1230" width="5" height="2.5" fill="#2a3550"/><rect x="396" y="1230" width="5" height="2.5" fill="#2a3550"/><rect x="480" y="1230" width="5" height="2.5" fill="#2a3550"/><rect x="527" y="1230" width="5" height="2.5" fill="#2a3550"/><rect x="586" y="1230" width="5" height="2.5" fill="#2a3550"/>
</svg></body></html>
